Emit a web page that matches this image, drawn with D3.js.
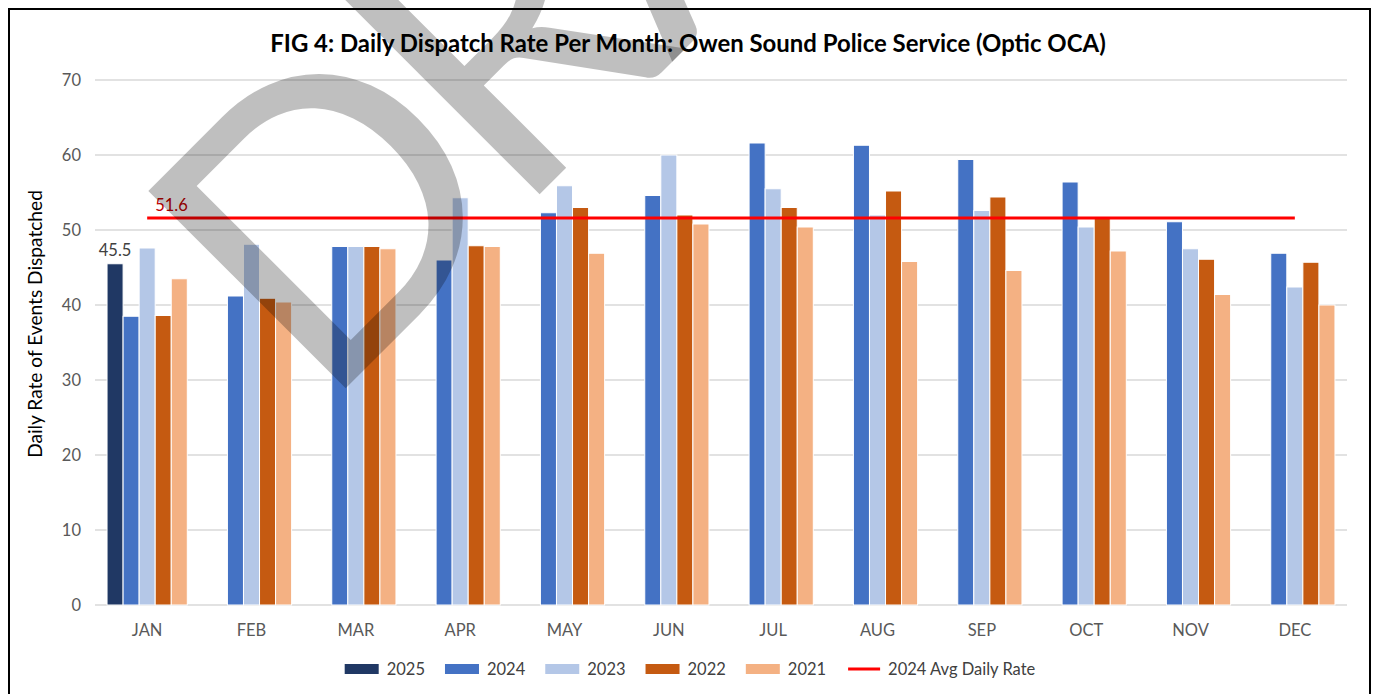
<!DOCTYPE html>
<html><head><meta charset="utf-8">
<script src="https://cdn.jsdelivr.net/npm/d3@7"></script>
<style>
body{margin:0;background:#fff;}
svg{display:block;font-family:Lato,"Open Sans",sans-serif;}
</style>
</head><body>
<svg id="chart" width="1373" height="694"></svg>
<script>
const months = ["JAN","FEB","MAR","APR","MAY","JUN","JUL","AUG","SEP","OCT","NOV","DEC"];
const seriesNames = ["2025","2024","2023","2022","2021"];
const v2025 = [45.5, null, null, null, null, null, null, null, null, null, null, null];
const v2024 = [38.5, 41.2, 47.8, 46.0, 52.3, 54.6, 61.6, 61.3, 59.4, 56.4, 51.1, 46.9];
const v2023 = [47.6, 48.1, 47.8, 54.3, 55.9, 60.0, 55.5, 52.0, 52.6, 50.4, 47.5, 42.4];
const v2022 = [38.6, 40.9, 47.8, 47.9, 53.0, 52.0, 53.0, 55.2, 54.4, 51.7, 46.1, 45.7];
const v2021 = [43.5, 40.4, 47.5, 47.8, 46.9, 50.8, 50.4, 45.8, 44.6, 47.2, 41.4, 40.0];
const avg2024 = [51.6, 51.6, 51.6, 51.6, 51.6, 51.6, 51.6, 51.6, 51.6, 51.6, 51.6, 51.6];
const avgName = "2024 Avg Daily Rate";
const yTicks = [0, 10, 20, 30, 40, 50, 60, 70];
const titleText = "FIG 4: Daily Dispatch Rate Per Month: Owen Sound Police Service (Optic OCA)";
const yTitle = "Daily Rate of Events Dispatched";
const watermark = "DRAFT";

const colors = ["#203864", "#4472c4", "#b4c7e7", "#c55a11", "#f4b183"];
const seriesVals = [v2025, v2024, v2023, v2022, v2021];

const svg = d3.select("#chart");
const plot = {left: 95, right: 1347, top: 80, bottom: 605};

// frame
svg.append("rect").attr("x", 9).attr("y", 9).attr("width", 1361).attr("height", 700)
  .attr("fill", "#fff").attr("stroke", "#000").attr("stroke-width", 2);

const x = d3.scaleBand().domain(months).range([plot.left, plot.right]).paddingInner(0).paddingOuter(0);
const y = d3.scaleLinear().domain([0, 70]).range([plot.bottom, plot.top]);
const groupW = x.step() * 5 / 6.5;
const xs = d3.scaleBand().domain(seriesNames).range([-groupW/2, groupW/2]).padding(0);

// gridlines
svg.append("g").selectAll("line").data(yTicks).join("line")
  .attr("x1", plot.left).attr("x2", plot.right)
  .attr("y1", d => y(d)).attr("y2", d => y(d))
  .attr("stroke", "#d9d9d9").attr("stroke-width", 1.4);

// y tick labels via axis
const yAxis = svg.append("g").attr("transform", `translate(${plot.left},0)`)
  .call(d3.axisLeft(y).tickValues(yTicks).tickSize(0).tickPadding(14));
yAxis.select(".domain").remove();
yAxis.selectAll("text").attr("font-family", "Lato").attr("font-size", 16.5).attr("fill", "#595959");

// x axis labels
const xAxis = svg.append("g").attr("transform", `translate(0,${plot.bottom})`)
  .call(d3.axisBottom(x).tickSize(0).tickPadding(19));
xAxis.select(".domain").remove();
xAxis.selectAll("text").attr("font-family", "Lato").attr("font-size", 16.5).attr("fill", "#595959");

// bars
const data = [];
months.forEach((m, i) => seriesNames.forEach((s, j) => {
  const v = seriesVals[j][i];
  if (v != null) data.push({m, s, v, c: colors[j]});
}));
svg.append("g").selectAll("rect").data(data).join("rect")
  .attr("x", d => x(d.m) + x.bandwidth()/2 + xs(d.s))
  .attr("width", xs.bandwidth())
  .attr("y", d => y(d.v))
  .attr("height", d => y(0) - y(d.v))
  .attr("fill", d => d.c)
  .attr("stroke", "#fff").attr("stroke-width", 1);

// data label 45.5
svg.append("text")
  .attr("x", x("JAN") + x.bandwidth()/2 + xs("2025") + xs.bandwidth()/2)
  .attr("y", y(v2025[0]) - 8)
  .attr("text-anchor", "middle").attr("font-size", 16.5).attr("fill", "#404040")
  .text(v2025[0].toFixed(1));

// avg line
const line = d3.line().x((d, i) => x(months[i]) + x.bandwidth()/2).y(d => y(d));
svg.append("path").datum(avg2024).attr("d", line)
  .attr("fill", "none").attr("stroke", "#ff0000").attr("stroke-width", 3);
svg.append("text")
  .attr("x", x(months[0]) + x.bandwidth()/2 + 8)
  .attr("y", y(avg2024[0]) - 7)
  .attr("font-size", 16.5).attr("fill", "#c00000")
  .text(avg2024[0].toFixed(1));

// title (fit to width)
const tt = svg.append("text").attr("x", 688).attr("y", 52).attr("text-anchor", "middle")
  .attr("font-weight", "bold").attr("font-size", 21).attr("fill", "#000").text(titleText);
{ const L = tt.node().getComputedTextLength(); tt.attr("font-size", 21 * 836 / L); }

// y title
const yt = svg.append("text").attr("transform", "translate(42,324) rotate(-90)")
  .attr("text-anchor", "middle").attr("font-size", 15).attr("fill", "#000").text(yTitle);
{ const L = yt.node().getComputedTextLength(); yt.attr("font-size", 15 * 268 / L); }

// legend
const legItems = seriesNames.map((s, j) => ({name: s, c: colors[j], type: "rect"}))
  .concat([{name: avgName, c: "#ff0000", type: "line"}]);
const leg = svg.append("g");
let lx = 0;
const legY = 669;
legItems.forEach(it => {
  const g = leg.append("g").attr("transform", `translate(${lx},0)`);
  if (it.type === "rect") {
    g.append("rect").attr("x", 0).attr("y", legY - 5).attr("width", 34).attr("height", 10).attr("fill", it.c);
  } else {
    g.append("line").attr("x1", 2).attr("x2", 34).attr("y1", legY).attr("y2", legY)
      .attr("stroke", it.c).attr("stroke-width", 3);
  }
  const t = g.append("text").attr("x", 42).attr("y", legY + 6).attr("font-size", 16.5).attr("fill", "#404040").text(it.name);
  lx += 42 + t.node().getComputedTextLength() + 20;
});
{ const total = lx - 20; leg.attr("transform", `translate(${690 - total/2},0)`); }

// watermark
{
  const cv = document.createElement("canvas").getContext("2d");
  let fs = 390;
  cv.font = `${fs}px Lato`;
  let m = cv.measureText("D");
  const capH = m.actualBoundingBoxAscent;
  fs = fs * 280 / capH;
  cv.font = `${fs}px Lato`;
  m = cv.measureText("D");
  const lsb = -m.actualBoundingBoxLeft;
  const a = -Math.PI / 4;
  const px = 342 - lsb * Math.cos(a), py = 392 - lsb * Math.sin(a);
  svg.append("text").attr("transform", `translate(${px},${py}) rotate(-45)`)
    .attr("font-family", "Lato").attr("font-size", fs).attr("letter-spacing", -22)
    .attr("fill", "#000").attr("fill-opacity", 0.25).text(watermark);
}
</script>
</body></html>
